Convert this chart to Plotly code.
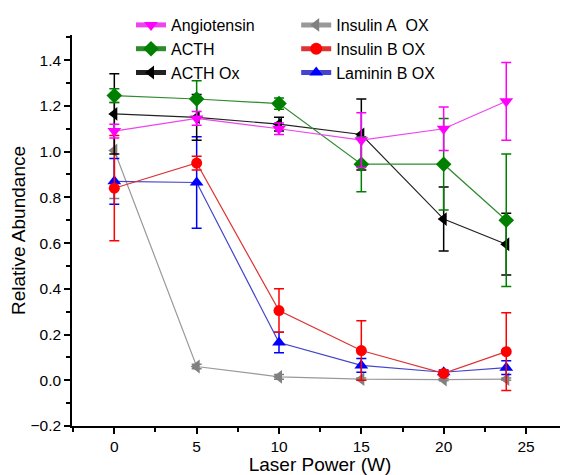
import plotly.graph_objects as go

laser_power = [0, 5, 10, 15, 20, 23.8]

angiotensin = [1.09, 1.145, 1.10, 1.05, 1.10, 1.22]
angiotensin_err = [0.03, 0.03, 0.025, 0.12, 0.095, 0.17]

acth = [1.245, 1.23, 1.21, 0.945, 0.945, 0.70]
acth_err = [0.03, 0.08, 0.025, 0.12, 0.20, 0.29]

acth_ox = [1.165, 1.15, 1.12, 1.075, 0.705, 0.595]
acth_ox_err = [0.175, 0.10, 0.03, 0.155, 0.14, 0.135]

insulin_a = [1.005, 0.06, 0.015, 0.005, 0.003, 0.005]
insulin_a_err = [0.21, 0.01, 0.01, 0.005, 0.005, 0.005]

insulin_b = [0.84, 0.95, 0.305, 0.13, 0.03, 0.125]
insulin_b_err = [0.23, 0.03, 0.095, 0.13, 0.01, 0.17]

laminin_b = [0.87, 0.865, 0.165, 0.065, 0.035, 0.055]
laminin_b_err = [0.10, 0.20, 0.045, 0.03, 0.01, 0.03]

series = [
    # name, y, err, color, line color, symbol, size, legend, rank
    ("Insulin A\u00a0 OX", insulin_a, insulin_a_err, "#808080", "#999999", "triangle-left", 12, "legend2", 1),
    ("Laminin B OX", laminin_b, laminin_b_err, "#0000FF", "#4444CC", "triangle-up", 12, "legend2", 3),
    ("Insulin B OX", insulin_b, insulin_b_err, "#FF0000", "#DD3333", "circle", 11, "legend2", 2),
    ("ACTH Ox", acth_ox, acth_ox_err, "#000000", "#222222", "triangle-left", 12, "legend", 3),
    ("ACTH", acth, acth_err, "#008000", "#2E8B2E", "diamond", 12, "legend", 2),
    ("Angiotensin", angiotensin, angiotensin_err, "#FF00FF", "#EE44EE", "triangle-down", 12, "legend", 1),
]

fig = go.Figure()
for name, y, err, color, lcolor, symbol, size, leg, rank in series:
    fig.add_trace(go.Scatter(
        x=laser_power, y=y, name=name, mode="lines+markers",
        line=dict(color=lcolor, width=1.2),
        marker=dict(color=color, symbol=symbol, size=size, line=dict(width=0)),
        error_y=dict(type="data", array=err, visible=True, color=color,
                     thickness=1.5, width=5),
        legend=leg, legendrank=rank,
    ))

font = "Arial, Liberation Sans, sans-serif"
leg_common = dict(yref="container", y=1.0, xanchor="left", yanchor="top",
                  bgcolor="rgba(0,0,0,0)", font=dict(size=16),
                  tracegroupgap=0, itemsizing="constant", borderwidth=0)
fig.update_layout(
    width=560, height=467,
    margin=dict(l=64, r=0, t=27, b=49, autoexpand=False),
    paper_bgcolor="white", plot_bgcolor="white",
    font=dict(family=font, size=16, color="#000000"),
    legend=dict(x=0.119, **leg_common),
    legend2=dict(x=0.452, **leg_common),
    xaxis=dict(
        range=[-2.57, 27.55], showgrid=False, zeroline=False, automargin=False,
        showline=True, linecolor="black", linewidth=1.5,
        ticks="outside", ticklen=6, tickwidth=1.5, tickcolor="black",
        tick0=0, dtick=5,
        minor=dict(ticks="outside", ticklen=4, tickwidth=1.5, tickcolor="black", dtick=2.5, tick0=0),
        tickfont=dict(size=15.5),
        title=dict(text="Laser Power (W)", font=dict(size=19), standoff=1),
    ),
    yaxis=dict(
        range=[-0.2, 1.51], showgrid=False, zeroline=False, automargin=False,
        showline=True, linecolor="black", linewidth=1.5,
        ticks="outside", ticklen=6, tickwidth=1.5, tickcolor="black",
        tick0=-0.2, dtick=0.2, tickformat=".1f",
        minor=dict(ticks="outside", ticklen=4, tickwidth=1.5, tickcolor="black", dtick=0.1, tick0=0),
        tickfont=dict(size=15.5),
        title=dict(text="Relative Abundance", font=dict(size=19), standoff=2),
    ),
)

fig.write_html("out.html")
